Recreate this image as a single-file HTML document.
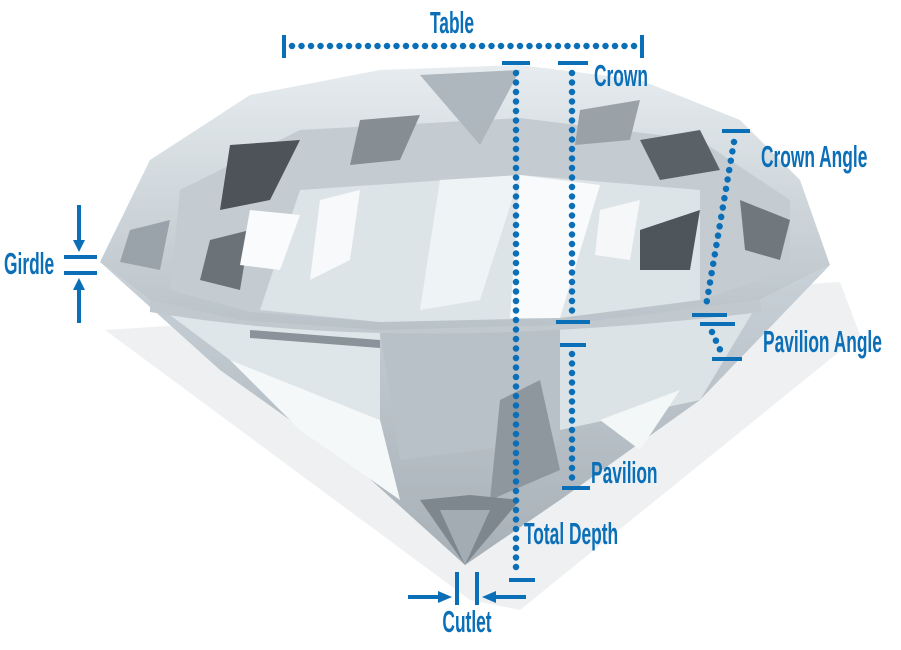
<!DOCTYPE html>
<html><head><style>
html,body{margin:0;padding:0;background:#fff;}
svg{display:block}
.l{font-family:"Liberation Sans",sans-serif;font-weight:bold;fill:#0b6fb8;font-size:31px}
</style></head><body>
<svg width="901" height="650" viewBox="0 0 901 650" xmlns="http://www.w3.org/2000/svg">
<defs>
<linearGradient id="cr" x1="0" y1="0" x2="0" y2="1"><stop offset="0" stop-color="#e6ecef"/><stop offset="1" stop-color="#b9c2c8"/></linearGradient>
<linearGradient id="pv" x1="0" y1="0" x2="0" y2="1"><stop offset="0" stop-color="#c9d2d8"/><stop offset="1" stop-color="#a7b0b6"/></linearGradient>
</defs>
<polygon points="105,330 840,282 860,335 520,610 470,600" fill="#eef0f1"/>
<polygon points="100,262 150,300 240,320 380,332 560,325 760,300 830,265 700,400 560,500 465,565 360,470 220,370" fill="url(#pv)"/>
<polygon points="150,300 380,332 380,420 230,360" fill="#dfe6ea"/>
<polygon points="230,360 380,420 400,500 300,430" fill="#f5f8f9"/>
<polygon points="560,325 760,300 700,400 560,430" fill="#dbe3e7"/>
<polygon points="380,332 560,325 560,440 400,460" fill="#b8c1c7"/>
<polygon points="500,400 540,380 560,470 490,500" fill="#8e979d"/>
<polygon points="420,500 470,495 520,500 465,565" fill="#7e878d"/>
<polygon points="440,510 465,565 490,510" fill="#a3acb2"/>
<polygon points="600,420 680,390 640,450" fill="#f4f7f8"/>
<polygon points="250,330 380,340 380,348 250,338" fill="#8a9399"/>
<path d="M150,300 Q400,345 760,300 L762,312 Q400,355 150,312Z" fill="#c1c9ce"/>
<polygon points="100,262 150,160 250,95 380,70 520,65 640,80 740,120 800,180 830,265 760,300 560,325 380,330 240,320 150,300" fill="url(#cr)"/>
<polygon points="180,190 300,130 520,118 700,140 790,200 790,270 700,300 560,318 380,322 250,312 170,290" fill="#c4ccd2"/>
<polygon points="300,190 520,175 700,190 700,300 560,318 380,322 260,310" fill="#dde4e8"/>
<polygon points="420,75 520,70 480,145" fill="#aeb7bd"/>
<polygon points="440,180 520,175 480,300 420,310" fill="#eef3f5"/>
<polygon points="520,175 600,185 560,318 510,318" fill="#f8fafb"/>
<polygon points="230,145 300,140 270,200 220,210" fill="#4d5358"/>
<polygon points="320,200 360,190 350,260 310,280" fill="#f7f9fa"/>
<polygon points="210,240 250,230 240,290 200,280" fill="#6b7278"/>
<polygon points="640,140 700,130 720,170 660,180" fill="#5b6267"/>
<polygon points="640,230 700,210 690,270 640,270" fill="#4f565b"/>
<polygon points="740,200 790,220 780,260 745,250" fill="#70787d"/>
<polygon points="360,120 420,115 400,160 350,165" fill="#868e94"/>
<polygon points="580,110 640,100 630,140 575,145" fill="#9aa2a8"/>
<polygon points="250,210 300,215 280,270 240,265" fill="#fafbfc"/>
<polygon points="130,230 170,220 160,270 120,262" fill="#9aa3a9"/>
<polygon points="600,210 640,200 630,260 595,255" fill="#f5f7f8"/>
<g stroke="#0b6fb8" fill="none" stroke-linecap="round">
<line x1="292" y1="46" x2="636" y2="46" stroke-width="6.5" stroke-dasharray="0 9.5"/>
<line x1="516" y1="73" x2="516" y2="575" stroke-width="6.5" stroke-dasharray="0 9.5"/>
<line x1="572" y1="73" x2="572" y2="314" stroke-width="6.5" stroke-dasharray="0 9.5"/>
<line x1="572" y1="354" x2="572" y2="480" stroke-width="6.5" stroke-dasharray="0 9.5"/>
<line x1="734" y1="142" x2="706" y2="306" stroke-width="6.5" stroke-dasharray="0 9.5"/>
<line x1="712" y1="332" x2="722" y2="354" stroke-width="6.5" stroke-dasharray="0 9.5"/>
</g>
<g stroke="#0b6fb8" stroke-width="4" fill="none">
<line x1="284" y1="35" x2="284" y2="58"/><line x1="642" y1="35" x2="642" y2="58"/>
<line x1="502" y1="63" x2="530" y2="63"/><line x1="509" y1="580" x2="535" y2="580"/>
<line x1="558" y1="63" x2="588" y2="63"/><line x1="556" y1="322" x2="590" y2="322"/>
<line x1="560" y1="345" x2="586" y2="345"/><line x1="562" y1="488" x2="590" y2="488"/>
<line x1="722" y1="131" x2="750" y2="131"/>
<line x1="692" y1="315" x2="727" y2="315"/><line x1="700" y1="324" x2="735" y2="324"/>
<line x1="712" y1="359" x2="742" y2="359"/>
<line x1="64" y1="257" x2="97" y2="257"/><line x1="64" y1="273" x2="97" y2="273"/>
<line x1="79" y1="205" x2="79" y2="245"/><line x1="79" y1="285" x2="79" y2="323"/>
<line x1="457" y1="572" x2="457" y2="605"/><line x1="477" y1="572" x2="477" y2="605"/>
<line x1="408" y1="597" x2="440" y2="597"/><line x1="494" y1="597" x2="526" y2="597"/>
</g>
<g fill="#0b6fb8">
<polygon points="73,240 85,240 79,252"/><polygon points="73,290 85,290 79,278"/>
<polygon points="438,591 438,603 452,597"/><polygon points="496,591 496,603 482,597"/>
</g>
<text class="l" transform="translate(452,33) scale(0.56,1)" text-anchor="middle">Table</text>
<text class="l" transform="translate(594,86) scale(0.56,1)">Crown</text>
<text class="l" transform="translate(761,167) scale(0.56,1)">Crown Angle</text>
<text class="l" transform="translate(763,352) scale(0.56,1)">Pavilion Angle</text>
<text class="l" transform="translate(591,483) scale(0.56,1)">Pavilion</text>
<text class="l" transform="translate(524,544) scale(0.56,1)">Total Depth</text>
<text class="l" transform="translate(4,274) scale(0.56,1)">Girdle</text>
<text class="l" transform="translate(467,632) scale(0.56,1)" text-anchor="middle">Cutlet</text>
</svg>
</body></html>
